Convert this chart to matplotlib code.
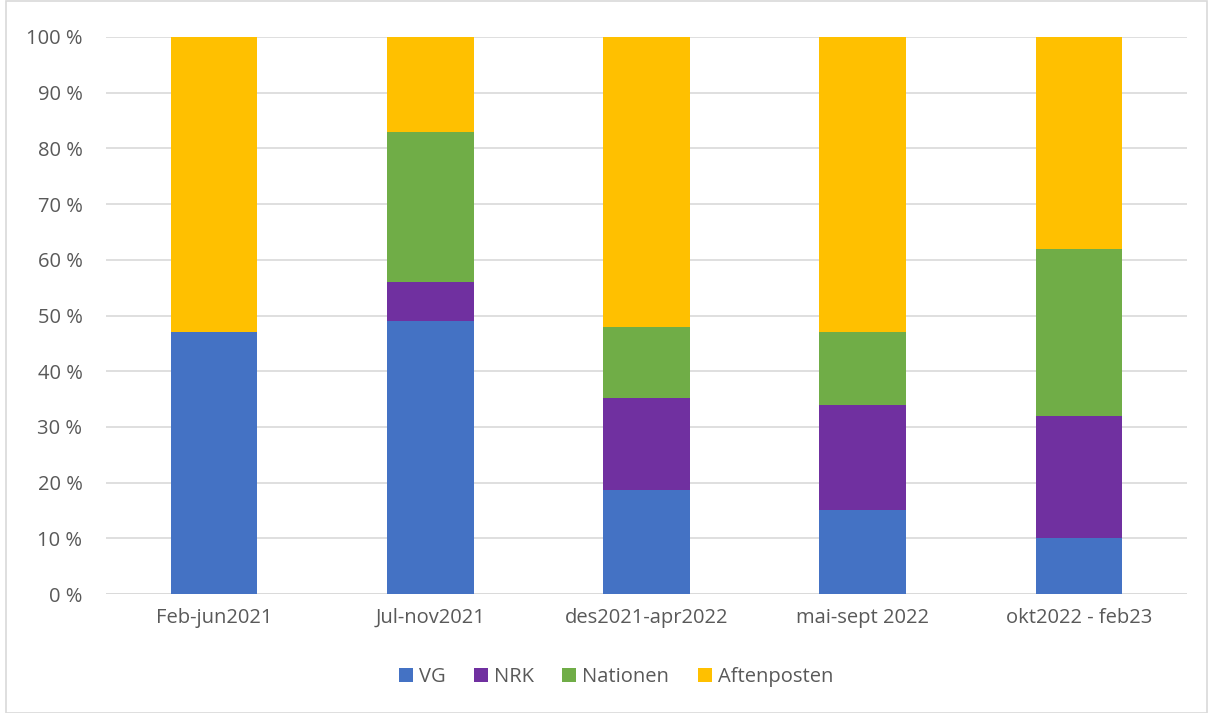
import matplotlib
matplotlib.use("Agg")
import matplotlib.pyplot as plt
from matplotlib.patches import Rectangle
import numpy as np

categories = ["Feb-jun2021", "Jul-nov2021", "des2021-apr2022", "mai-sept 2022", "okt2022 - feb23"]
vg = [47.0, 49.0, 18.7, 15.0, 10.0]
nrk = [0.0, 7.0, 16.5, 19.0, 22.0]
nationen = [0.0, 27.0, 12.7, 13.0, 30.0]
aftenposten = [53.0, 17.0, 52.1, 53.0, 38.0]
series_names = ["VG", "NRK", "Nationen", "Aftenposten"]
colors = ["#4472C4", "#7030A0", "#70AD47", "#FFC000"]

plt.rcParams['font.family'] = ['Open Sans', 'DejaVu Sans']
txt = "#595959"

fig = plt.figure(figsize=(12.13, 7.13), dpi=100)
ax = fig.add_axes([106/1213, 1 - 594/713, (1187-106)/1213, (594-37)/713])

x = np.arange(len(categories))
bottom = np.zeros(len(categories))
for name, vals, c in zip(series_names, [vg, nrk, nationen, aftenposten], colors):
    vals = np.array(vals)
    ax.bar(x, vals, width=0.4, bottom=bottom, color=c, label=name, zorder=3)
    bottom += vals

ax.set_xlim(-0.5, len(categories) - 0.5)
ax.set_ylim(0, 100)
ax.set_yticks(np.arange(0, 101, 10))
ax.set_yticklabels([f"{v} %" for v in range(0, 101, 10)])
ax.set_xticks(x)
ax.set_xticklabels(categories)
ax.tick_params(axis='both', length=0, colors=txt, labelsize=14.5)
ax.tick_params(axis='y', pad=17)
ax.tick_params(axis='x', pad=10)
ax.grid(axis='y', color="#D9D9D9", linewidth=1.2, zorder=0)
for s in ax.spines.values():
    s.set_visible(False)
ax.axhline(0, color="#D9D9D9", linewidth=1.2, zorder=1)

leg = fig.legend(loc='center', bbox_to_anchor=(616/1213, 1 - 677/713), ncol=4, frameon=False,
                 fontsize=14.5, handlelength=0.7, handleheight=0.7, handletextpad=0.3,
                 columnspacing=1.4)
for t in leg.get_texts():
    t.set_color(txt)

fig.patches.append(Rectangle((6/1213, 0), 1 - 12/1213, 1 - 1/713, transform=fig.transFigure,
                             fill=False, edgecolor="#D9D9D9", linewidth=1.2))

fig.savefig("out.png", dpi=100)
